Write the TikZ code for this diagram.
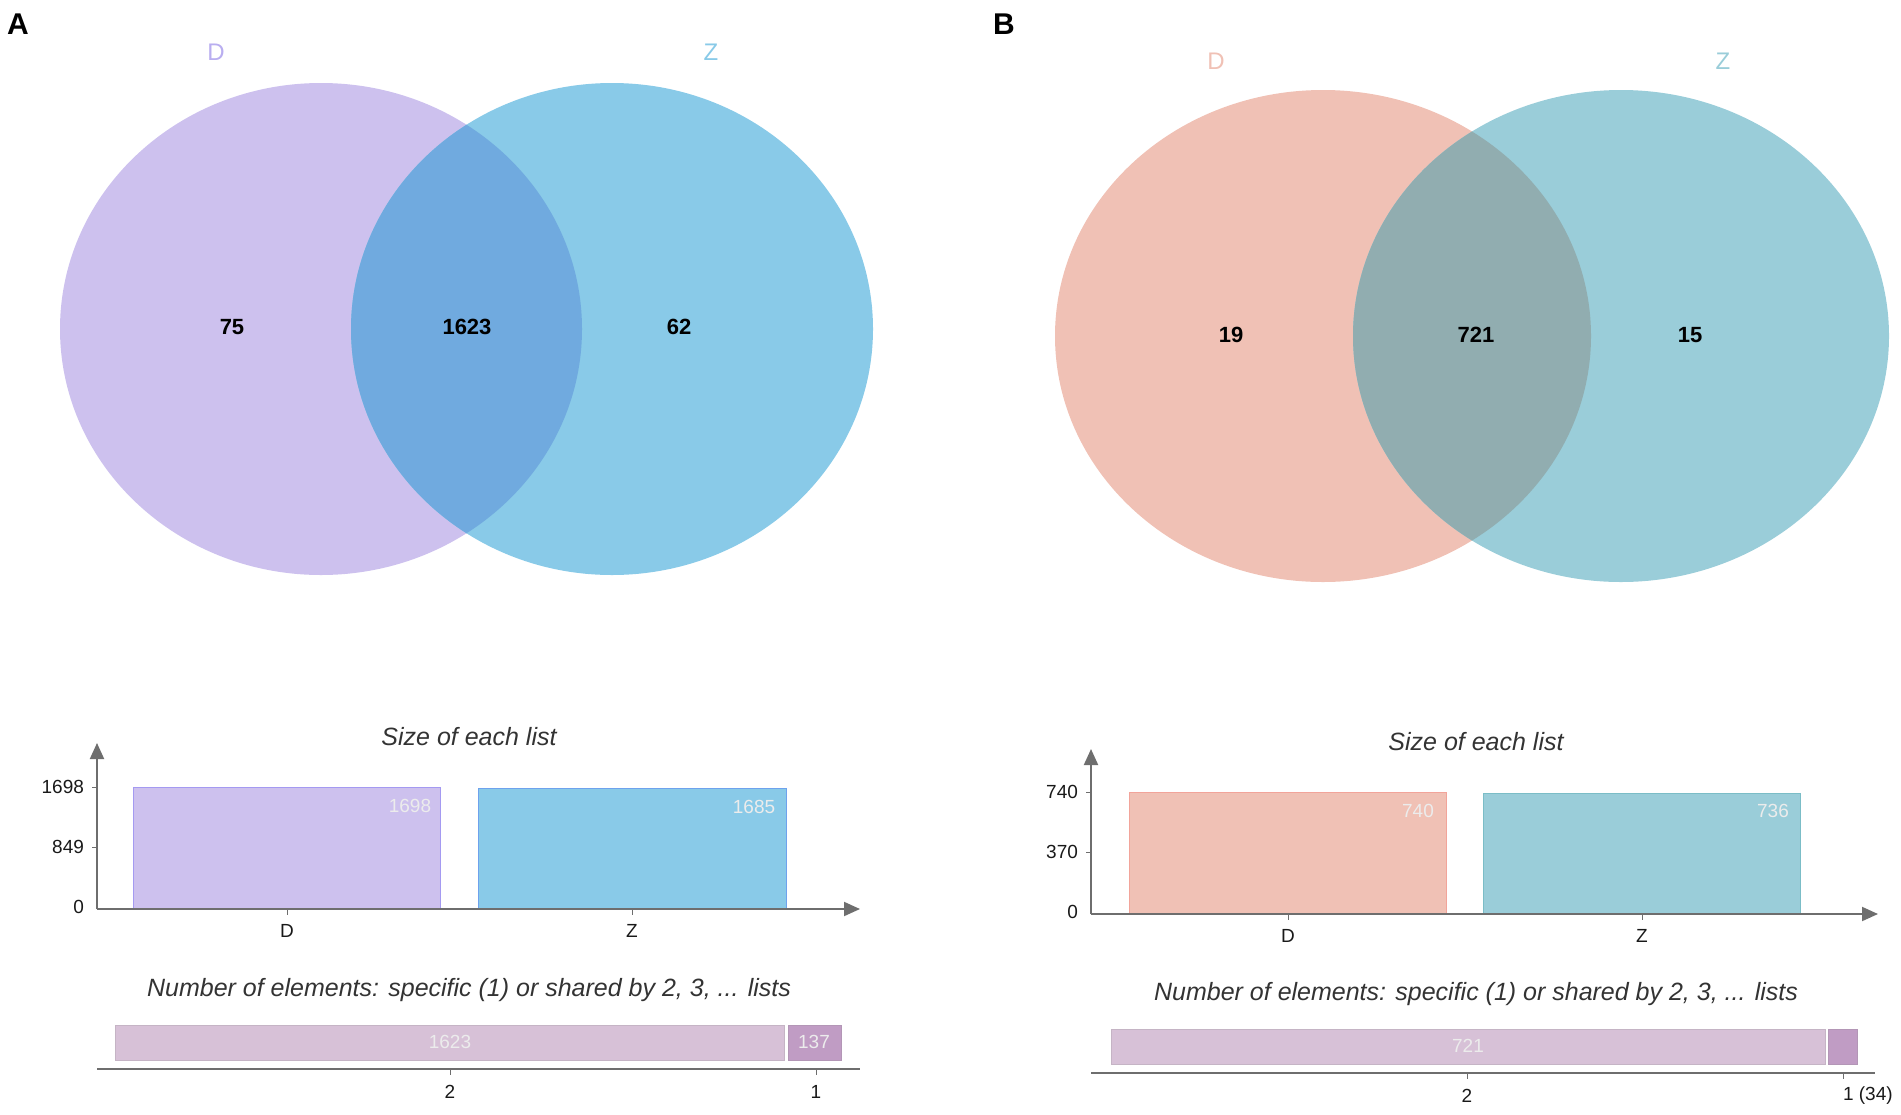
\documentclass[tikz,border=0pt]{standalone}
\usepackage{fontspec}
\setmainfont{Liberation Sans}
\usetikzlibrary{arrows.meta}

\definecolor{lavD}{RGB}{205,193,238}
\definecolor{bluZ}{RGB}{137,202,232}
\definecolor{overA}{RGB}{112,170,223}
\definecolor{salD}{RGB}{240,193,181}
\definecolor{tealZ}{RGB}{154,205,217}
\definecolor{overB}{RGB}{145,173,176}
\definecolor{shareBar}{RGB}{215,193,215}
\definecolor{uniqBar}{RGB}{192,156,196}
\definecolor{axisGray}{RGB}{110,110,110}

\begin{document}
\begin{tikzpicture}[x=0.5pt, y=-0.5pt,
                    panel/.style={font=\fontsize{15}{17}\selectfont\bfseries},
                    setname/.style={font=\fontsize{12}{14}\selectfont},
                    count/.style={font=\fontsize{11}{13}\selectfont\bfseries},
                    title/.style={font=\fontsize{12.5}{14}\selectfont\itshape, text=black!80},
                    ticklab/.style={font=\fontsize{9.5}{11}\selectfont, text=black!90},
                    inbar/.style={font=\fontsize{9.5}{11}\selectfont, text=white!85!gray},
                    axis/.style={draw=axisGray, line width=1pt, -{Triangle[length=8pt, width=7pt]}},
                    baseline/.style={draw=axisGray, line width=1pt}]
  \useasboundingbox (0,0) rectangle (1901,1114);

  % ---- A: venn
  \node[panel] (labA) at (18,24) {A};
  \fill[lavD] (321,329) ellipse [x radius=261, y radius=246];
  \fill[bluZ] (612,329) ellipse [x radius=261, y radius=246];
  \begin{scope}
    \clip (321,329) ellipse [x radius=261, y radius=246];
    \fill[overA] (612,329) ellipse [x radius=261, y radius=246];
  \end{scope}
  \node[setname, text=lavD!90!blue] (nameDA) at (216,52) {D};
  \node[setname, text=bluZ] (nameZA) at (711,52) {Z};
  \node[count] (onlyDA) at (232,327) {75};
  \node[count] (bothA) at (467,327) {1623};
  \node[count] (onlyZA) at (679,327) {62};

  % ---- A: size of each list
  \node[title] (sizeA) at (469,737) {Size of each list};
  \coordinate (oA) at (97,909);
  \coordinate (yA) at (97,743);
  \coordinate (xA) at (860,909);
  \fill[lavD, draw=lavD!80!blue] (133,787) rectangle (440,909);
  \fill[bluZ, draw=bluZ!80!blue] (478,788) rectangle (786,909);
  \draw[axis] (oA) -- (yA);
  \draw[axis] (oA) -- (xA);
  \node[ticklab, anchor=east] (t2A) at (91,787) {1698};
  \node[ticklab, anchor=east] (t1A) at (91,847) {849};
  \node[ticklab, anchor=east] (t0A) at (91,907) {0};
  \draw[axisGray] (92,787) -- (97,787) (92,847) -- (97,847);
  \draw[axisGray] (287,909) -- (287,915) (632,909) -- (632,915);
  \node[inbar] (vDA) at (410,806) {1698};
  \node[inbar] (vZA) at (754,807) {1685};
  \node[ticklab] (xDA) at (287,931) {D};
  \node[ticklab] (xZA) at (632,931) {Z};

  % ---- A: shared elements
  \node[title] (numA) at (469,990) {Number of elements: specific (1) or shared by 2, 3, ... lists};
  \fill[shareBar, draw=shareBar!80!gray] (115,1025) rectangle (784,1060);
  \fill[uniqBar, draw=uniqBar!80!gray] (788,1025) rectangle (841,1060);
  \node[inbar] (sA) at (450,1042) {1623};
  \node[inbar] (uA) at (814,1042) {137};
  \coordinate (bA1) at (97,1069);
  \coordinate (bA2) at (860,1069);
  \draw[baseline] (bA1) -- (bA2);
  \draw[axisGray] (450,1069) -- (450,1075) (816,1069) -- (816,1075);
  \node[ticklab] (k2A) at (450,1092) {2};
  \node[ticklab] (k1A) at (816,1092) {1};

  % ---- B: venn
  \node[panel] (labB) at (1004,24) {B};
  \fill[salD] (1323,336) ellipse [x radius=268, y radius=246];
  \fill[tealZ] (1621,336) ellipse [x radius=268, y radius=246];
  \begin{scope}
    \clip (1323,336) ellipse [x radius=268, y radius=246];
    \fill[overB] (1621,336) ellipse [x radius=268, y radius=246];
  \end{scope}
  \node[setname, text=salD] (nameDB) at (1216,61) {D};
  \node[setname, text=tealZ] (nameZB) at (1723,61) {Z};
  \node[count] (onlyDB) at (1231,335) {19};
  \node[count] (bothB) at (1476,335) {721};
  \node[count] (onlyZB) at (1690,335) {15};

  % ---- B: size of each list
  \node[title] (sizeB) at (1476,742) {Size of each list};
  \coordinate (oB) at (1091,914);
  \coordinate (yB) at (1091,749);
  \coordinate (xB) at (1878,914);
  \fill[salD, draw=salD!85!red] (1129,792) rectangle (1446,914);
  \fill[tealZ, draw=tealZ!80!teal] (1483,793) rectangle (1800,914);
  \draw[axis] (oB) -- (yB);
  \draw[axis] (oB) -- (xB);
  \node[ticklab, anchor=east] (t2B) at (1085,792) {740};
  \node[ticklab, anchor=east] (t1B) at (1085,852) {370};
  \node[ticklab, anchor=east] (t0B) at (1085,912) {0};
  \draw[axisGray] (1086,792) -- (1091,792) (1086,852) -- (1091,852);
  \draw[axisGray] (1288,914) -- (1288,920) (1642,914) -- (1642,920);
  \node[inbar] (vDB) at (1418,811) {740};
  \node[inbar] (vZB) at (1773,811) {736};
  \node[ticklab] (xDB) at (1288,936) {D};
  \node[ticklab] (xZB) at (1642,936) {Z};

  % ---- B: shared elements
  \node[title] (numB) at (1476,994) {Number of elements: specific (1) or shared by 2, 3, ... lists};
  \fill[shareBar, draw=shareBar!80!gray] (1111,1029) rectangle (1825,1064);
  \fill[uniqBar, draw=uniqBar!80!gray] (1828,1029) rectangle (1857,1064);
  \node[inbar] (sB) at (1468,1046) {721};
  \coordinate (bB1) at (1091,1073);
  \coordinate (bB2) at (1875,1073);
  \draw[baseline] (bB1) -- (bB2);
  \draw[axisGray] (1467,1073) -- (1467,1079) (1843,1073) -- (1843,1079);
  \node[ticklab] (k2B) at (1467,1096) {2};
  \node[ticklab, anchor=west] (k1B) at (1836,1096) {1 (34)};
\end{tikzpicture}
\end{document}
